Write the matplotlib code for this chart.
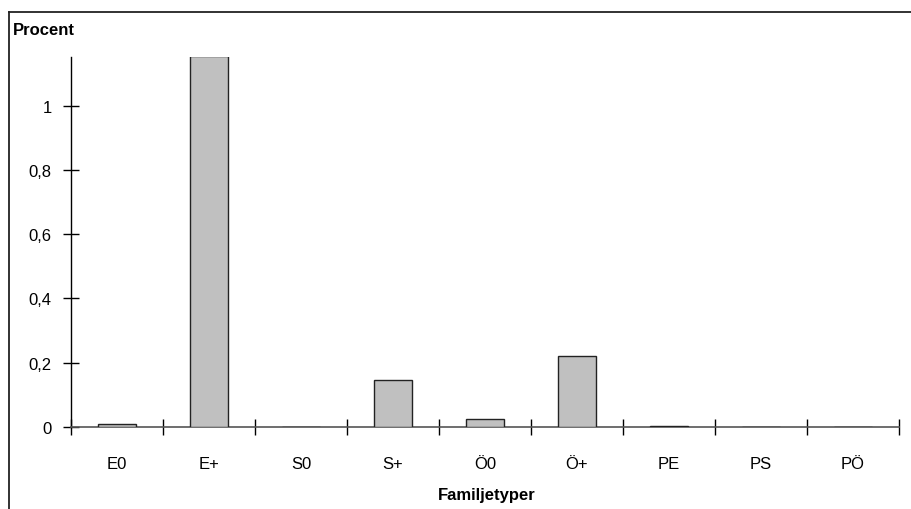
import matplotlib
matplotlib.use("Agg")
import matplotlib.pyplot as plt
from matplotlib.lines import Line2D

categories = ["E0", "E+", "S0", "S+", "Ö0", "Ö+", "PE", "PS", "PÖ"]
values = [0.008, 1.153, 0.0, 0.146, 0.024, 0.221, 0.002, 0.0, 0.0]
yticks = [0, 0.2, 0.4, 0.6, 0.8, 1.0]
ytick_labels = ["0", "0,2", "0,4", "0,6", "0,8", "1"]

plt.rcParams['font.family'] = ['Liberation Sans', 'DejaVu Sans']

W, H = 911, 510
fig = plt.figure(figsize=(W / 100, H / 100), dpi=100)
ax = fig.add_axes([71 / W, 1 - 428 / H, (899 - 71) / W, (428 - 58) / H])

x = list(range(len(categories)))
ax.bar(x, values, width=0.41, color="#C0C0C0", edgecolor="#222222", linewidth=1.0, zorder=3)

ax.set_xlim(-0.5, len(categories) - 0.5)
ax.set_ylim(0, 1.151)

for s in ["top", "right"]:
    ax.spines[s].set_visible(False)
ax.spines["left"].set_color("black")
ax.spines["left"].set_linewidth(1.0)
ax.spines["bottom"].set_color("#555555")
ax.spines["bottom"].set_linewidth(1.2)

ax.set_yticks(yticks)
ax.set_yticklabels(ytick_labels, fontsize=12)
ax.tick_params(axis="y", direction="inout", length=12, width=1.0, pad=8, colors="black")

# category ticks at boundaries, labels at centers
ax.set_xticks([i - 0.5 for i in range(len(categories) + 1)])
ax.set_xticklabels([])
ax.set_xticks(x, minor=True)
ax.set_xticklabels(categories, minor=True, fontsize=12)
ax.tick_params(axis="x", which="major", direction="inout", length=12, width=1.0, color="black")
ax.tick_params(axis="x", which="minor", length=0, pad=21)

fig.text(13 / W, 1 - 35 / H, "Procent", fontsize=12, fontweight="bold", ha="left", va="baseline")
fig.text(487 / W, 1 - 500 / H, "Familjetyper", fontsize=12, fontweight="bold", ha="center", va="baseline")

# outer chart frame (left and top edges)
fig.add_artist(Line2D([9 / W, 9 / W], [0, 1 - 13 / H], transform=fig.transFigure, color="#222222", linewidth=1.3))
fig.add_artist(Line2D([9 / W, 1], [1 - 13 / H, 1 - 13 / H], transform=fig.transFigure, color="#222222", linewidth=1.3))

fig.savefig("out.png", dpi=100)
